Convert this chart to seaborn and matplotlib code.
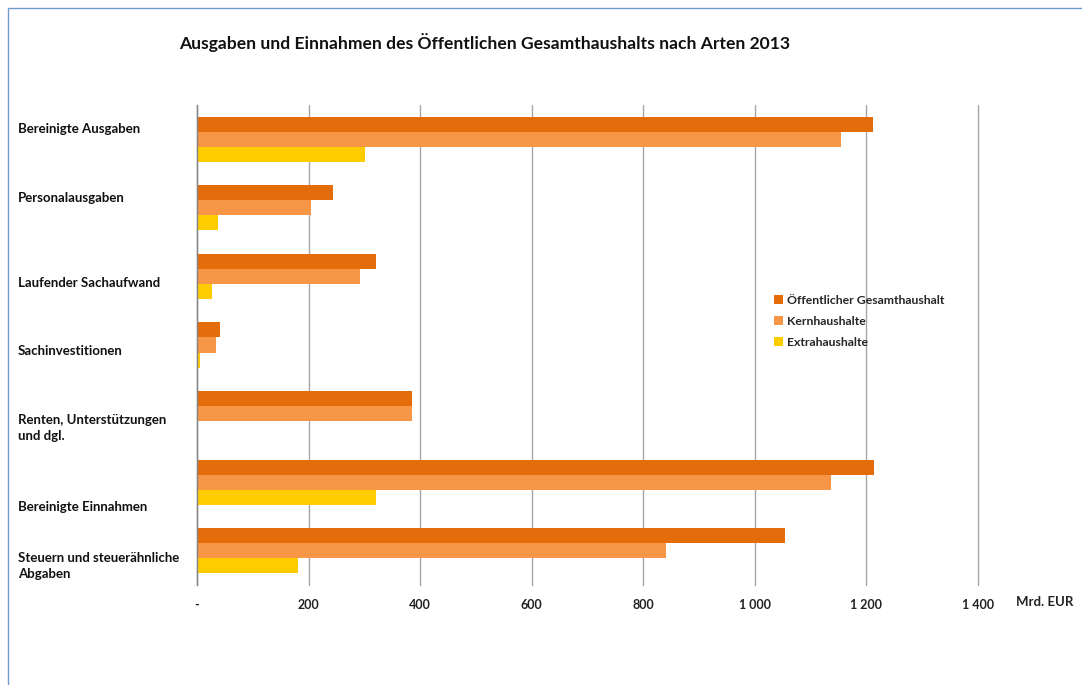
import numpy as np
import pandas as pd
import matplotlib
matplotlib.use('Agg')
import matplotlib.pyplot as plt
import matplotlib.transforms as mtransforms
from matplotlib.patches import Rectangle
import seaborn as sns

# Data (Mrd. EUR)
categories = [
    'Bereinigte Ausgaben',
    'Personalausgaben',
    'Laufender Sachaufwand',
    'Sachinvestitionen',
    'Renten, Unterstützungen\nund dgl.',
    'Bereinigte Einnahmen',
    'Steuern und steuerähnliche\nAbgaben',
]
series_names = ['Öffentlicher Gesamthaushalt', 'Kernhaushalte', 'Extrahaushalte']
gesamt = [1211, 244, 321, 41, 385, 1213, 1054]
kern = [1154, 204, 292, 34, 385, 1136, 840]
extra = [301, 38, 27, 5, 0, 321, 181]
x_ticks = [0, 200, 400, 600, 800, 1000, 1200, 1400]
x_tick_labels = ['-', '200', '400', '600', '800', '1 000', '1 200', '1 400']
title = 'Ausgaben und Einnahmen des Öffentlichen Gesamthaushalts nach Arten 2013'
unit_label = 'Mrd. EUR'

colors = ['#E46C0A', '#F79646', '#FFCC00']

df = pd.DataFrame({
    'Art': categories * 3,
    'Haushalt': np.repeat(series_names, len(categories)),
    'Wert': gesamt + kern + extra,
})

sns.set_theme(style='white')
plt.rcParams['font.family'] = ['Lato', 'DejaVu Sans']

W, H = 1082, 685
fig = plt.figure(figsize=(W / 100, H / 100), dpi=100)
ax = fig.add_axes([197 / W, 1 - 585 / H, (978 - 197) / W, (585 - 105) / H])

sns.barplot(data=df, y='Art', x='Wert', hue='Haushalt', hue_order=series_names,
            palette=colors, saturation=1, orient='h', width=0.66, linewidth=0,
            ax=ax, errorbar=None, legend=True)

ax.set_xlim(0, 1400)
ax.set_xticks(x_ticks)
ax.set_xticklabels(x_tick_labels, fontsize=9, fontweight='bold', color='#222222')
ax.tick_params(axis='x', length=0, pad=10)
ax.set_yticks(range(len(categories)))
ax.set_yticklabels([])
ax.tick_params(axis='y', length=0)
ax.set_xlabel('')
ax.set_ylabel('')
ax.grid(axis='x', color='#A6A6A6', linewidth=1)
for gl in ax.get_xgridlines():
    gl.set_clip_on(False)
ax.set_axisbelow(True)
for side in ['top', 'right', 'bottom']:
    ax.spines[side].set_visible(False)
ax.spines['left'].set_color('#868686')
ax.spines['left'].set_linewidth(1)

# category labels at the left edge of the figure
label_offsets = [-0.15, -0.15, 0.1, 0.09, 0.21, 0.36, 0.22]
trans = mtransforms.blended_transform_factory(fig.transFigure, ax.transData)
for i, (lab, off) in enumerate(zip(categories, label_offsets)):
    ax.text(18 / W, i + off, lab, transform=trans, ha='left', va='center',
            fontsize=9.5, fontweight='bold', color='#111111', linespacing=1.45)

# legend
handles, labels = ax.get_legend_handles_labels()
ax.legend(handles, labels, loc='upper left', bbox_to_anchor=(763 / W, 1 - 284 / H),
          bbox_transform=fig.transFigure, frameon=False, handlelength=0.7,
          handleheight=0.7, handletextpad=0.35, labelspacing=0.8,
          prop={'size': 8.8, 'weight': 'bold'})

fig.text(485 / W, 1 - 43 / H, title, ha='center', va='center',
         fontsize=12.6, fontweight='bold', color='#111111')
fig.text(1045 / W, 1 - 602 / H, unit_label, ha='center', va='center',
         fontsize=9.5, fontweight='bold', color='#222222')

# thin blue frame at the top/left edge
fig.patches.append(Rectangle((8 / W, -0.1), 1.2, 1 - 8 / H + 0.1,
                             transform=fig.transFigure, fill=False,
                             edgecolor='#6F9BD1', linewidth=1))

fig.savefig('out.png', dpi=100)
